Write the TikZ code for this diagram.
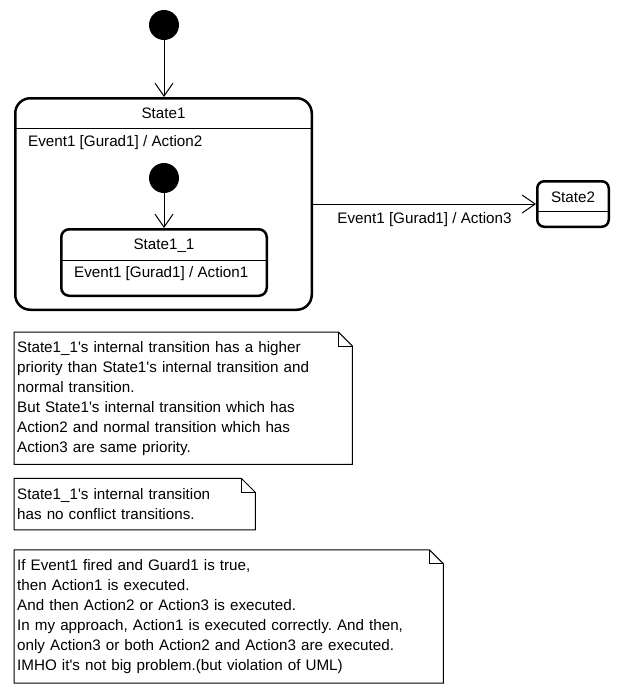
\documentclass[tikz,border=0pt]{standalone}
\usepackage{fontspec}
\setmainfont{Liberation Sans}[Ligatures=TeXOff]
\usetikzlibrary{positioning, arrows.meta}
\frenchspacing
\tikzset{
  every node/.append style={font=\fontsize{15.2}{20}\selectfont},
  state/.style={draw, line width=2.5pt, rounded corners=#1, inner sep=0pt},
  state/.default=8pt,
  initial/.style={circle, fill=black, minimum size=30pt, inner sep=0pt},
  lbl/.style={inner sep=0pt},
  sep/.style={line width=1pt},
  trans/.style={line width=1pt, -{Straight Barb[length=13pt, width=18pt]}},
  note/.style={align=left, inner xsep=3pt, inner ysep=0pt, anchor=north west}
}
\newcommand{\dogear}[1]{%
  \draw[sep] (#1.north west) -- ([xshift=-14pt]#1.north east) -- ([yshift=-14pt]#1.north east) -- (#1.south east) -- (#1.south west) -- cycle;
  \draw[sep] ([xshift=-14pt]#1.north east) |- ([yshift=-14pt]#1.north east);
}

\begin{document}
\begin{tikzpicture}[x=1pt, y=-1pt]
  \useasboundingbox (0,0) rectangle (622,694);
  % states
  \node[initial] (init) at (164,25) {};
  \node[state=15pt, minimum width=296.5pt, minimum height=211.5pt] (state1) at (163.5,204) {};
  \node[lbl] (state1-name) at ([yshift=-16pt]state1.north) {State1};
  \draw[sep] ([yshift=-31pt]state1.north west) -- ([yshift=-31pt]state1.north east);
  \node[lbl, anchor=west] (state1-int) at ([xshift=14pt, yshift=-46pt]state1.north west) {Event1 [Gurad1] / Action2};
  \node[initial] (init2) at (164,178) {};
  \node[state, minimum width=205.5pt, minimum height=66.5pt] (state11) at (164,262.5) {};
  \node[lbl] (state11-name) at ([yshift=-18pt]state11.north) {State1\_1};
  \draw[sep] ([yshift=-32pt]state11.north west) -- ([yshift=-32pt]state11.north east);
  \node[lbl, anchor=west] (state11-int) at ([xshift=14pt, yshift=-46pt]state11.north west) {Event1 [Gurad1] / Action1};
  \node[state=7pt, minimum width=71.5pt, minimum height=45.5pt] (state2) at (573,204) {};
  \node[lbl] (state2-name) at ([yshift=-17pt]state2.north) {State2};
  \draw[sep] ([yshift=-31pt]state2.north west) -- ([yshift=-31pt]state2.north east);
  % transitions
  \draw[trans] (init) -- (init |- state1.north);
  \draw[trans] (init2) -- (init2 |- state11.north);
  \draw[trans] (state1) -- (state2) node[lbl, midway, below=8pt] (trans-lbl) {Event1 [Gurad1] / Action3};
  % notes
  \node[note, text width=332pt, minimum height=132pt] (note1) at (14,332) {State1\_1's internal transition has a higher\\priority than State1's internal transition and\\normal transition.\\But State1's internal transition which has\\Action2 and normal transition which has\\Action3 are same priority.};
  \dogear{note1}
  \node[note, text width=235pt, minimum height=51pt, below=14pt of note1.south west, anchor=north west] (note2) {State1\_1's internal transition\\has no conflict transitions.};
  \dogear{note2}
  \node[note, text width=423pt, minimum height=133pt, below=20pt of note2.south west, anchor=north west] (note3) {If Event1 fired and Guard1 is true,\\then Action1 is executed.\\And then Action2 or Action3 is executed.\\In my approach, Action1 is executed correctly. And then,\\only Action3 or both Action2 and Action3 are executed.\\IMHO it's not big problem.(but violation of UML)};
  \dogear{note3}
\end{tikzpicture}
\end{document}
